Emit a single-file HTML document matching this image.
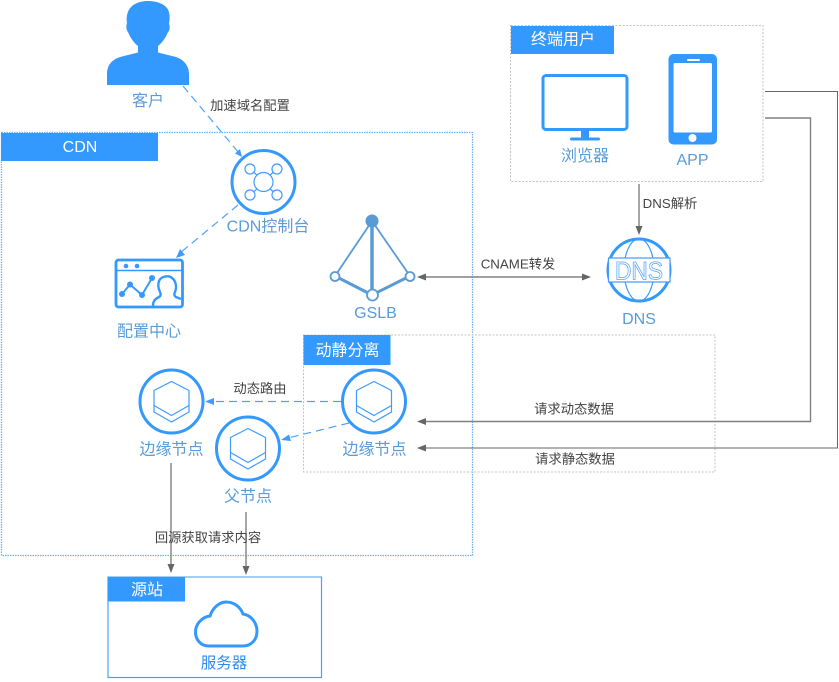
<!DOCTYPE html>
<html><head><meta charset="utf-8">
<style>
html,body{margin:0;padding:0;background:#fff;width:839px;height:682px;overflow:hidden}
svg{display:block}
text{font-family:"Liberation Sans","Noto Sans CJK SC",sans-serif;text-anchor:middle}
.l{font-size:16px;fill:#5b9bd8}
.h{font-size:16px;fill:#fff}
.c{font-size:13.3px;fill:#444}
.ln{stroke:#666;stroke-width:1;fill:none}
.ln2{stroke:#808080;stroke-width:1.4;fill:none}
.d{stroke:#4fa2fb;stroke-width:1.2;fill:none;stroke-dasharray:8 5}
.ar{fill:#666}
.ab{fill:#3f9bff}
.ring{fill:#fff;stroke:#3399ff;stroke-width:3}
.thin{fill:none;stroke:#3f9bff;stroke-width:1.2;stroke-linejoin:round}
</style></head><body>
<svg width="839" height="682" viewBox="0 0 839 682" xmlns="http://www.w3.org/2000/svg">
<defs>
<g id="hex">
<circle r="31.5" class="ring"/>
<path class="thin" d="M0-20 17.500-11V4L0 14-17.500 4V-11Z"/>
<path class="thin" d="M-17.500 4V10.500L0 20.500 17.500 10.500V4"/>
</g>
</defs>

<!-- containers -->
<rect x="1.500" y="132.500" width="471" height="423" fill="none" stroke="#6fb3f7" stroke-width="1.300" stroke-dasharray="1.500 1"/>
<rect x="1" y="133" width="157" height="28" fill="#3399ff"/>
<text x="80" y="152" class="h">CDN</text>

<rect x="510.500" y="25.500" width="252.500" height="156" fill="#fff" stroke="#c4c4c4" stroke-dasharray="2 1.500"/>
<rect x="511" y="26" width="103" height="28" fill="#3399ff"/>
<text x="563" y="44.500" class="h">终端用户</text>

<rect x="303.500" y="335" width="411.500" height="137" fill="none" stroke="#c4c4c4" stroke-dasharray="2 1.500"/>
<rect x="303.500" y="335" width="87" height="30" fill="#3399ff"/>
<text x="347.500" y="355.500" class="h">动静分离</text>

<rect x="108" y="577" width="213.500" height="100.500" fill="#fff" stroke="#4d9ff5" stroke-width="1.200"/>
<line x1="108" y1="577" x2="321" y2="577" stroke="#90c4fa" stroke-width="1.500"/>
<rect x="108" y="577" width="77" height="24.500" fill="#3399ff"/>
<text x="147" y="595" class="h">源站</text>

<!-- person -->
<path fill="#3399ff" d="M107 85V74C107 65 112 59 122 56.500L138 52.500V46C133 42 130 37 128 32C126 30 126 26 127 23C126 18 127 11 131 7C136 2 143 1 148 1C155 1 163 3 167 8C170 12 170 19 169 23C170 27 170 30 168 32C166 37 163 42 158 46V52.500L174 56.500C184 59 189 66 189 74V85Z"/>
<text x="148" y="106" class="l">客户</text>

<!-- customer -> console -->
<line x1="183" y1="86" x2="239" y2="153" class="d"/>
<path class="ab" d="M242 157 235 153.500 240 149Z"/>
<text x="250" y="110" class="c">加速域名配置</text>

<!-- console -->
<circle cx="263.500" cy="182" r="31.500" class="ring"/>
<g fill="#fff" stroke="#3f9bff" stroke-width="1.200">
<path d="M250 169 258 176M277 169 269 176M250 195 258 188M277 195 269 188" fill="none"/>
<circle cx="263.500" cy="182" r="9.500"/>
<circle cx="250" cy="169" r="5"/>
<circle cx="277" cy="169" r="5"/>
<circle cx="250" cy="195" r="5"/>
<circle cx="277" cy="195" r="5"/>
</g>
<text x="268" y="231.500" class="l">CDN控制台</text>

<!-- console -> config -->
<line x1="238" y1="205" x2="180" y2="253" class="d"/>
<path class="ab" d="M176 258 180 249 185 255Z"/>

<!-- config centre icon -->
<rect x="116" y="260" width="66.500" height="47" rx="2.500" fill="#fff" stroke="#3399ff" stroke-width="2.800"/>
<line x1="116" y1="270.500" x2="182" y2="270.500" stroke="#3399ff" stroke-width="1.500"/>
<circle cx="126" cy="266" r="2.300" fill="#3399ff"/><circle cx="137" cy="266" r="2.300" fill="#3399ff"/>
<polyline points="122,294 130,284.500 142,295 152,278" fill="none" stroke="#3399ff" stroke-width="2"/>
<g fill="#3399ff"><circle cx="122" cy="294" r="3"/><circle cx="130" cy="284.500" r="3"/><circle cx="142" cy="295" r="3"/><circle cx="152" cy="278" r="3"/></g>
<path fill="none" stroke="#3399ff" stroke-width="2.400" d="M153 306C153 301 155 299 159 297C161 296 161 294 160 292C158 288 158 284 159 281C161 276 169 275 172 278C176 281 177 287 175 292C174 294 174 296 176 297L181 299"/>
<text x="149" y="336.500" class="l">配置中心</text>

<!-- GSLB -->
<g stroke="#5b9bd5" fill="none">
<line x1="372" y1="221" x2="372" y2="295" stroke-width="3.500"/>
<line x1="372" y1="221" x2="335" y2="276" stroke-width="1.800"/>
<line x1="372" y1="221" x2="410" y2="276" stroke-width="1.800"/>
<line x1="335" y1="276" x2="372" y2="295" stroke-width="3"/>
<line x1="410" y1="276" x2="372" y2="295" stroke-width="3"/>
</g>
<circle cx="372" cy="221" r="6.500" fill="#5b9bd5"/>
<circle cx="335" cy="276.500" r="4.500" fill="#fff" stroke="#5b9bd5" stroke-width="1.800"/>
<circle cx="410" cy="276.500" r="4.500" fill="#fff" stroke="#5b9bd5" stroke-width="1.800"/>
<circle cx="372.500" cy="295" r="5.500" fill="#fff" stroke="#5b9bd5" stroke-width="1.800"/>
<text x="375.500" y="318" class="l">GSLB</text>

<!-- CNAME arrow -->
<line x1="424" y1="277" x2="584" y2="277" class="ln2"/>
<path class="ar" d="M417 277 426 273.500V280.500Z"/>
<path class="ar" d="M591 277 582 273.500V280.500Z"/>
<text x="518" y="268.500" class="c">CNAME转发</text>

<!-- devices -->
<rect x="543" y="75.500" width="84" height="54" rx="3" fill="#fff" stroke="#3399ff" stroke-width="3"/>
<rect x="581" y="131" width="8" height="7" fill="#3399ff"/>
<rect x="570" y="137.500" width="30" height="3" rx="1.500" fill="#3399ff"/>
<text x="585" y="161" class="l">浏览器</text>

<rect x="668.500" y="54" width="48.500" height="90.500" rx="5" fill="#3399ff"/>
<rect x="673.500" y="63" width="38.500" height="69.500" rx="1.500" fill="#fff"/>
<rect x="687" y="59" width="13" height="2" rx="1" fill="#fff"/>
<circle cx="692.500" cy="138" r="4" fill="#fff"/>
<text x="692.500" y="165" class="l">APP</text>

<!-- DNS arrow -->
<line x1="639" y1="184" x2="639" y2="230" class="ln2"/>
<path class="ar" d="M639 235 635.500 226H642.500Z"/>
<text x="670" y="208" class="c">DNS解析</text>

<!-- DNS icon -->
<circle cx="639" cy="270" r="31" fill="#fff" stroke="#3399ff" stroke-width="3"/>
<ellipse cx="639" cy="270" rx="15" ry="31" fill="none" stroke="#3f9bff" stroke-width="1.200"/>
<rect x="608.500" y="258" width="61.500" height="24" fill="#fff" stroke="#3f9bff" stroke-width="1.200"/>
<text x="639" y="279.500" style="font-size:25px;fill:#fff;stroke:#55a6fb;stroke-width:.8" textLength="48" lengthAdjust="spacingAndGlyphs">DNS</text>
<text x="639" y="324" class="l">DNS</text>

<!-- right-side routes -->
<polyline points="765,91.500 837.500,91.500 837.500,448 426,448" class="ln"/>
<path class="ar" d="M417 448 426 444.500V451.500Z"/>
<polyline points="765,118 810.500,118 810.500,421.500 426,421.500" class="ln2"/>
<path class="ar" d="M417 421.500 426 418V425Z"/>
<text x="574" y="413.500" class="c">请求动态数据</text>
<text x="575" y="463.500" class="c">请求静态数据</text>

<!-- edge nodes -->
<use href="#hex" x="171.500" y="401.500"/>
<use href="#hex" x="248" y="448.500"/>
<use href="#hex" x="374" y="401.500"/>
<text x="171.500" y="454.500" class="l">边缘节点</text>
<text x="248" y="501.500" class="l">父节点</text>
<text x="374.500" y="454.500" class="l">边缘节点</text>

<line x1="341" y1="401.500" x2="212" y2="401.500" class="d"/>
<path class="ab" d="M205 401.500 214 398V405Z"/>
<text x="260" y="393" class="c">动态路由</text>
<line x1="349" y1="423" x2="288" y2="438" class="d"/>
<path class="ab" d="M281 440 289 434.500 291 441Z"/>

<!-- to origin -->
<line x1="171" y1="463" x2="171" y2="568" class="ln2"/>
<path class="ar" d="M171 573 167.500 564H174.500Z"/>
<line x1="246" y1="512" x2="246" y2="570" class="ln2"/>
<path class="ar" d="M246 575 242.500 566H249.500Z"/>
<text x="208" y="542" class="c">回源获取请求内容</text>

<!-- cloud -->
<path fill="#fff" stroke="#3399ff" stroke-width="3" d="M209 646C200 646 195.500 639 195.500 632C195.500 624 202 617 210 616C213 607 220 602 226 602C233 602 240 606 243 614C251 615 257 623 257 631C257 640 251 646 243 646Z"/>
<text x="224" y="668" style="font-size:15.500px;fill:#2b8cf0">服务器</text>
</svg>
</body></html>
